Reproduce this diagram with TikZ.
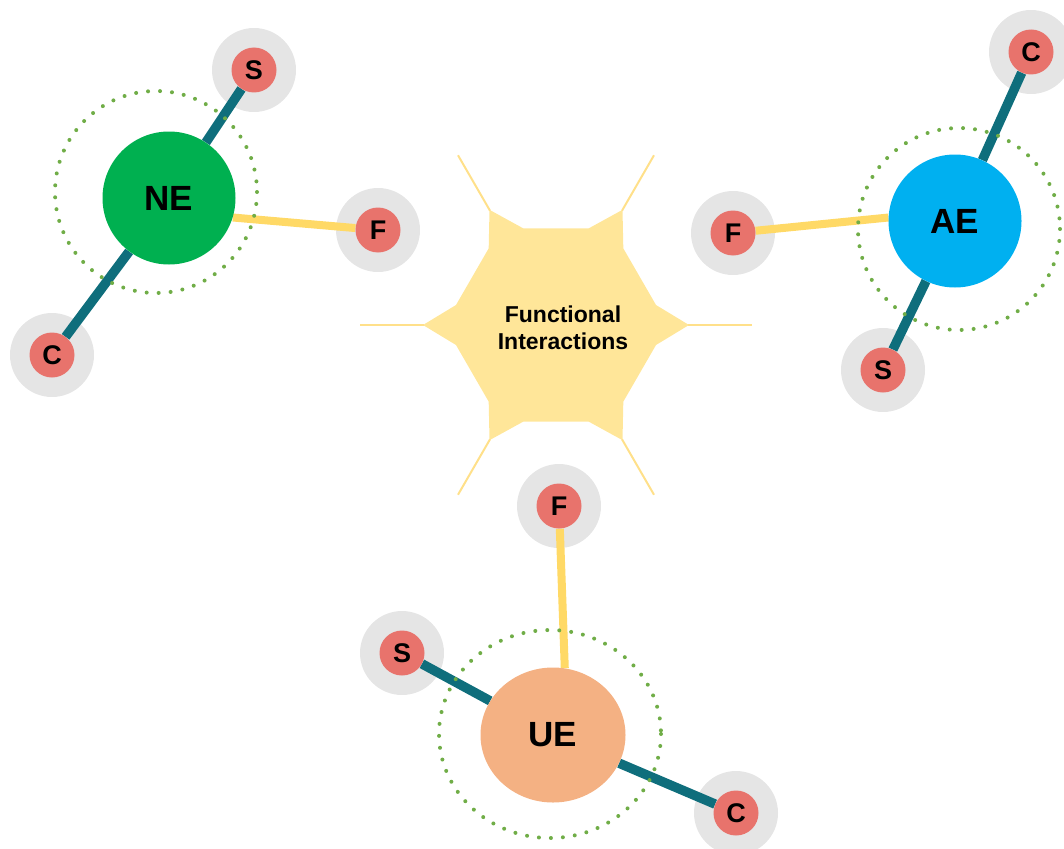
\documentclass[tikz,border=0pt]{standalone}
\usepackage{fontspec}
\setmainfont{Liberation Sans}
\usetikzlibrary{shapes.geometric}
\pgfdeclarelayer{halolayer}
\pgfdeclarelayer{bondlayer}
\pgfsetlayers{halolayer,bondlayer,main}
\definecolor{bondteal}{HTML}{0F6E7C}
\definecolor{bondyellow}{HTML}{FFD966}
\definecolor{hexfill}{HTML}{FFE699}
\definecolor{spikecol}{HTML}{FFE08A}
\definecolor{atomred}{HTML}{E8736C}
\definecolor{halogray}{HTML}{E5E5E5}
\definecolor{negreen}{HTML}{00B050}
\definecolor{aeblue}{HTML}{00B0F0}
\definecolor{ueorange}{HTML}{F4B183}
\definecolor{dotgreen}{HTML}{70AD47}
\begin{document}
\begin{tikzpicture}[x=1pt,y=-1pt,
  atom/.style={circle,fill=atomred,minimum size=45pt,inner sep=0pt,font=\bfseries\fontsize{27}{27}\selectfont},
  entity/.style={circle,minimum size=133pt,inner sep=0pt,font=\bfseries\fontsize{35}{35}\selectfont},
  halofill/.style={fill=halogray},
  tealbond/.style={draw=bondteal,line width=9.5pt},
  yellowbond/.style={draw=bondyellow,line width=8pt},
  dotring/.style={draw=dotgreen,line width=4pt,line cap=round,dash pattern=on 0pt off 12pt},
  spikeline/.style={draw=spikecol,line width=2pt}]
\useasboundingbox (0,0) rectangle (1064,848);

% central hexagonal star
\fill[hexfill,shift={(556,325)}]
  (-11.3:102) -- (0:133) -- (11.3:102) -- (48.7:102) -- (60:133) -- (71.3:102)
  -- (108.7:102) -- (120:133) -- (131.3:102) -- (168.7:102) -- (180:133) -- (191.3:102)
  -- (228.7:102) -- (240:133) -- (251.3:102) -- (288.7:102) -- (300:133) -- (311.3:102) -- cycle;
\foreach \a in {0,60,...,300}
  \draw[spikeline,shift={(556,325)}] (\a:132) -- (\a:196);
\node[font=\bfseries\fontsize{23}{27}\selectfont,align=center] (fi) at (563,328) {Functional\\Interactions};

% dotted rings
\draw[dotring] (156,192) circle (101);
\draw[dotring] (959,229) circle (101);
\draw[dotring] (550,734) ellipse (111 and 104);

% entities
\node[entity,fill=negreen] (NE) at (169,198) {NE};
\node[entity,fill=aeblue] (AE) at (955,221) {AE};
\node[entity,ellipse,minimum width=145pt,minimum height=135pt,fill=ueorange] (UE) at (553,735) {UE};

% atoms
\node[atom] (neS) at (254,70) {S};
\node[atom] (neF) at (378,230) {F};
\node[atom] (neC) at (52,355) {C};
\node[atom] (aeC) at (1031,52) {C};
\node[atom] (aeF) at (733,233) {F};
\node[atom] (aeS) at (883,370) {S};
\node[atom] (ueF) at (559,506) {F};
\node[atom] (ueS) at (402,653) {S};
\node[atom] (ueC) at (736,813) {C};

\begin{pgfonlayer}{halolayer}
  \foreach \n in {neS,neF,neC,aeC,aeF,aeS,ueF,ueS,ueC}
    \fill[halofill] (\n) circle (42);
\end{pgfonlayer}

\begin{pgfonlayer}{bondlayer}
  \draw[tealbond] (neS) -- (NE) -- (neC);
  \draw[tealbond] (aeC) -- (AE) -- (aeS);
  \draw[tealbond] (ueS) -- (UE) -- (ueC);
  \draw[yellowbond] (neF) -- (NE.-17);
  \draw[yellowbond] (aeF) -- (AE.177);
  \draw[yellowbond] (ueF) -- (UE.80);
\end{pgfonlayer}
\end{tikzpicture}
\end{document}
